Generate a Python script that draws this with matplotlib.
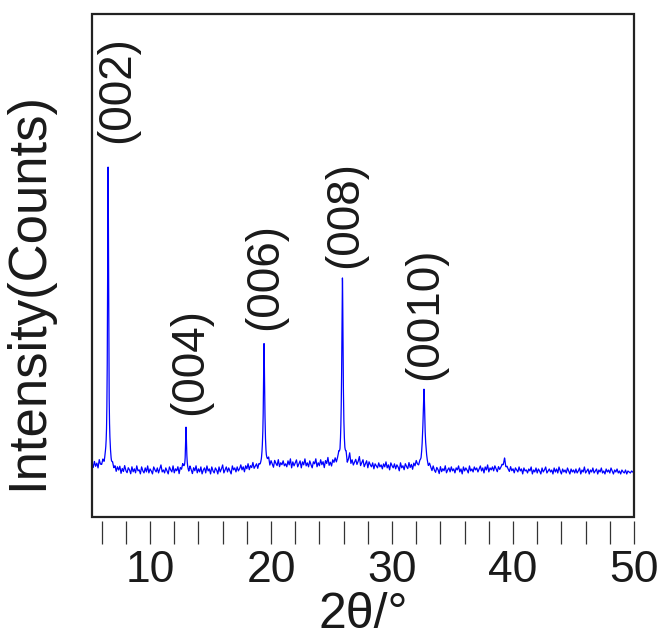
import numpy as np
import matplotlib
matplotlib.use("Agg")
import matplotlib.pyplot as plt
from matplotlib.patches import Rectangle

plt.rcParams['font.family'] = ['Liberation Sans', 'DejaVu Sans']

# ---- data (arbitrary intensity units) ----
angle_start, angle_end = 5.2, 50.0
baseline = [
    54, 49, 55, 50, 53, 48, 56, 51, 50, 54, 49, 52, 50, 55, 48, 51, 47, 50, 46, 49,
    44, 49, 46, 50, 43, 48, 45, 51, 46, 44, 49, 47, 43, 50, 45, 48, 44, 51, 46, 47,
    43, 50, 46, 44, 49, 45, 51, 44, 48, 46, 43, 50, 47, 45, 49, 44, 48, 52, 45, 47,
    44, 49, 46, 43, 50, 47, 45, 51, 44, 48, 46, 50, 43, 49, 47, 52, 48, 45, 49, 46,
    44, 50, 47, 43, 49, 46, 51, 44, 48, 45, 50, 43, 47, 49, 44, 51, 46, 48, 43, 50,
    46, 44, 49, 47, 43, 50, 45, 48, 52, 44, 47, 50, 45, 49, 46, 43, 51, 47, 49, 45,
    50, 46, 48, 52, 47, 50, 45, 51, 48, 53, 47, 51, 49, 54, 48, 50, 52, 47, 51, 49,
    50, 54, 49, 56, 51, 53, 57, 50, 55, 52, 49, 56, 53, 51, 57, 50, 54, 52, 56, 51,
    53, 50, 56, 52, 58, 49, 55, 51, 54, 57, 50, 53, 56, 49, 55, 52, 58, 51, 54, 50,
    56, 52, 49, 55, 53, 58, 50, 54, 51, 57, 52, 55, 49, 56, 53, 59, 51, 54, 50, 56,
    53, 57, 52, 55, 58, 51, 56, 53, 54, 52, 58, 50, 55, 62, 52, 56, 51, 54, 57, 52,
    55, 60, 51, 54, 57, 50, 53, 56, 49, 55, 52, 50, 54, 48, 53, 51, 49, 54, 50, 52,
    48, 53, 50, 55, 49, 52, 47, 54, 51, 49, 53, 48, 52, 50, 46, 54, 49, 51, 47, 53,
    50, 48, 54, 49, 52, 47, 53, 50, 55, 51, 49, 52, 50, 54, 52, 49, 53, 50, 47, 51,
    48, 45, 50, 46, 44, 49, 47, 43, 50, 45, 48, 46, 51, 44, 47, 49, 45, 50, 46, 48,
    44, 49, 47, 51, 45, 48, 43, 50, 46, 49, 47, 44, 51, 46, 48, 45, 50, 47, 49, 45,
    48, 51, 46, 49, 44, 50, 47, 52, 45, 49, 47, 50, 46, 51, 48, 45, 50, 47, 49, 51,
    48, 50, 46, 49, 47, 45, 50, 46, 48, 44, 49, 47, 45, 50, 46, 48, 43, 49, 46, 47,
    44, 48, 46, 50, 43, 47, 45, 49, 44, 48, 46, 43, 49, 45, 47, 50, 44, 46, 48, 45,
    47, 43, 49, 45, 48, 44, 50, 46, 43, 48, 45, 47, 44, 49, 46, 43, 48, 45, 47, 44,
    48, 44, 46, 49, 43, 47, 45, 50, 44, 46, 48, 43, 47, 45, 49, 44, 46, 48, 43, 47,
    45, 49, 44, 46, 43, 48, 45, 47, 44, 49, 46, 43, 47, 45, 48, 44, 46, 43, 47, 45,
    44, 47, 43, 46, 45, 44, 46, 45, 44,
]
peak_pos = [6.53, 12.97, 19.42, 25.9, 32.64, 39.3]
peak_height = [297, 42, 123, 186, 77, 9]
peak_fwhm = [0.10, 0.10, 0.12, 0.13, 0.18, 0.2]

labels = ['(002)', '(004)', '(006)', '(008)', '(0010)']
label_x = [7.3, 13.3, 19.5, 26.1, 32.7]
label_y = [374, 102, 187, 249, 137]

xticks_all = list(range(6, 51, 2))
xtick_text = ['' if t % 10 else str(t) for t in xticks_all]

# ---- build pattern ----
coarse_x = np.linspace(angle_start, angle_end, len(baseline))
x = np.linspace(angle_start, angle_end, 4481)
y = np.interp(x, coarse_x, np.array(baseline, dtype=float))
for p, h, w in zip(peak_pos, peak_height, peak_fwhm):
    g = w / 2.0
    y = y + h * g**2 / ((x - p) ** 2 + g**2)

# ---- figure ----
fig = plt.figure(figsize=(6.62, 6.43), dpi=100)
ax = fig.add_axes([92 / 662, 1 - 517 / 643, (634 - 92) / 662, (517 - 14) / 643])
ax.plot(x, y, color='#0000ff', lw=0.9)
ax.set_xlim(5.2, 50)
ax.set_ylim(0, 503)

for s in ax.spines.values():
    s.set_visible(False)
ax.spines['bottom'].set_position(('outward', 3))
ax.add_patch(Rectangle((0, 0), 1, 1, transform=ax.transAxes, fill=False,
                       lw=1.6, ec='#222222', clip_on=False, zorder=5))

ax.set_yticks([])
ax.set_xticks(xticks_all)
ax.set_xticklabels(xtick_text)
ax.tick_params(axis='x', direction='out', length=16.5, width=0.9,
               color='#333333', pad=4, labelsize=32, labelcolor='#1a1a1a')

for t, lx, ly in zip(labels, label_x, label_y):
    ax.text(lx, ly, t, rotation=90, ha='center', va='bottom',
            fontsize=33, color='#1a1a1a')

ax.set_xlabel('2θ/°', fontsize=36, color='#1a1a1a', labelpad=1)
ax.set_ylabel('Intensity(Counts)', fontsize=38, color='#1a1a1a')
ax.yaxis.set_label_coords(-0.072, 0.45)

fig.savefig('out.png', dpi=100)
